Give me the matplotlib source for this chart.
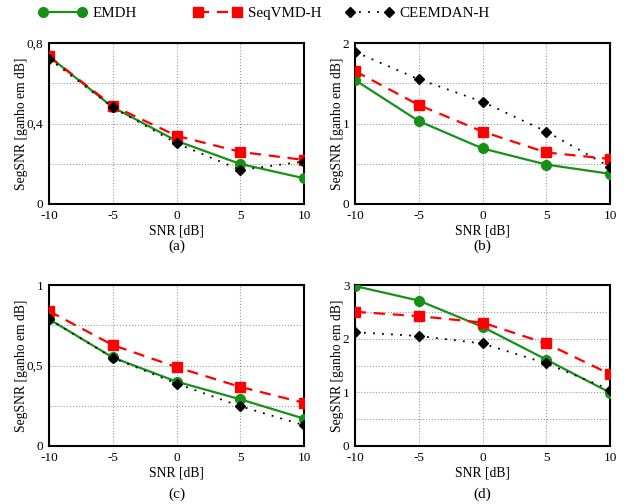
import matplotlib
matplotlib.use("Agg")
import matplotlib.pyplot as plt
from matplotlib.lines import Line2D

plt.rcParams['font.family'] = ['Liberation Serif', 'DejaVu Serif']

snr = [-10, -5, 0, 5, 10]

# (a)
emdh_a = [0.733, 0.481, 0.314, 0.199, 0.128]
seq_a = [0.733, 0.488, 0.339, 0.259, 0.219]
ceem_a = [0.722, 0.480, 0.302, 0.169, 0.211]
# (b)
emdh_b = [1.54, 1.03, 0.69, 0.49, 0.375]
seq_b = [1.65, 1.23, 0.90, 0.64, 0.56]
ceem_b = [1.89, 1.55, 1.27, 0.90, 0.46]
# (c)
emdh_c = [0.788, 0.550, 0.400, 0.290, 0.170]
seq_c = [0.838, 0.627, 0.490, 0.367, 0.268]
ceem_c = [0.788, 0.548, 0.388, 0.247, 0.129]
# (d)
emdh_d = [2.98, 2.71, 2.22, 1.61, 0.995]
seq_d = [2.50, 2.42, 2.30, 1.91, 1.34]
ceem_d = [2.12, 2.05, 1.91, 1.54, 1.05]

names = ['EMDH', 'SeqVMD-H', 'CEEMDAN-H']
captions = ['(a)', '(b)', '(c)', '(d)']

GREEN = '#17901a'
# line styles for the three methods
styles = [
    dict(color=GREEN, lw=1.6, ls='-', marker='o', ms=7),
    dict(color='red', lw=1.6, ls=(0, (5, 3.5)), marker='s', ms=6.5),
    dict(color='black', lw=1.3, ls=(0, (1, 4)), marker='D', ms=5.5),
]

panels = [
    (emdh_a, seq_a, ceem_a, 0.8, [0, 0.4, 0.8], [0.2, 0.6], ['0', '0,4', '0,8']),
    (emdh_b, seq_b, ceem_b, 2, [0, 1, 2], [0.5, 1.5], ['0', '1', '2']),
    (emdh_c, seq_c, ceem_c, 1, [0, 0.5, 1], [0.25, 0.75], ['0', '0,5', '1']),
    (emdh_d, seq_d, ceem_d, 3, [0, 1, 2, 3], [0.5, 1.5, 2.5], ['0', '1', '2', '3']),
]

W, H = 629, 504
fig = plt.figure(figsize=(W / 100, H / 100), dpi=100)

# axes boxes in pixels: left, top, right, bottom
boxes = [(49, 43, 304, 204), (355, 43, 610, 204),
         (49, 285, 304, 446), (355, 285, 610, 446)]
cap_y = [-0.22, -0.22, -0.255, -0.255]

for i, (box, p) in enumerate(zip(boxes, panels)):
    l, t, r, b = box
    ax = fig.add_axes([l / W, 1 - b / H, (r - l) / W, (b - t) / H])
    e, s, c, ymax, yt, ymin, ylab = p
    for k, ys in enumerate([e, s, c]):
        ax.plot(snr, ys, zorder=3 + k, **styles[k])
    ax.set_xlim(-10, 10)
    ax.set_ylim(0, ymax)
    ax.set_xticks(snr)
    ax.set_xticklabels(['-10', '-5', '0', '5', '10'])
    ax.set_yticks(yt)
    ax.set_yticklabels(ylab)
    ax.set_yticks(ymin, minor=True)
    ax.grid(True, which='both', color='#999999', ls=':', lw=0.8)
    ax.tick_params(which='both', length=0, labelsize=9.5)
    ax.tick_params(axis='x', pad=4.5)
    ax.tick_params(axis='y', pad=4)
    for sp in ax.spines.values():
        sp.set_linewidth(1.5)
    ax.set_xlabel('SNR [dB]', fontsize=9.8, labelpad=1.5)
    ax.set_ylabel('SegSNR [ganho em dB]', fontsize=9.8, labelpad=-1)
    ax.text(0.5, cap_y[i], captions[i], transform=ax.transAxes,
            ha='center', va='top', fontsize=11)

# legend entries placed at fixed columns like the original
leg_x = [38, 193, 345]
for k in range(3):
    h = Line2D([], [], **styles[k])
    fig.legend([h], [names[k]], loc='center left',
               bbox_to_anchor=(leg_x[k] / W, 1 - 13 / H),
               frameon=False, fontsize=10.8, handlelength=3.2, numpoints=2,
               handletextpad=0.45, borderpad=0, borderaxespad=0)

fig.savefig('out.png', dpi=100)
